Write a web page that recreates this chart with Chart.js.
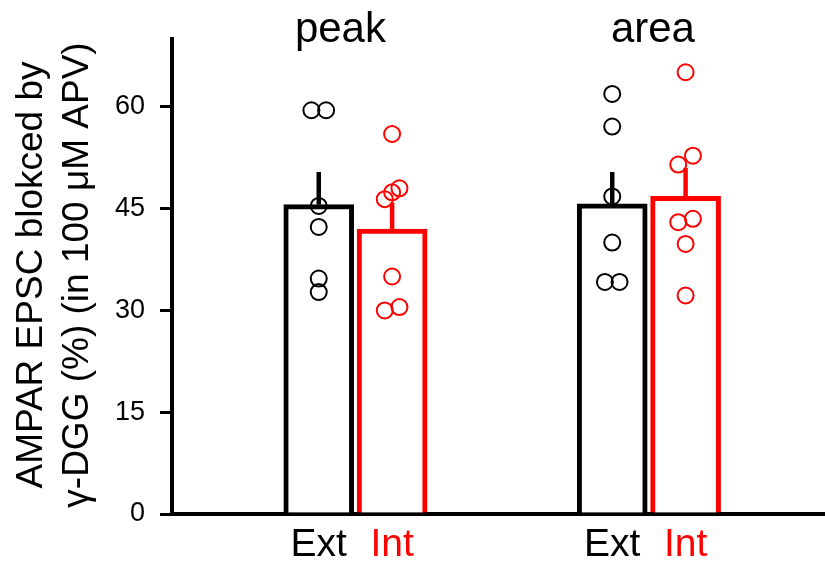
<!DOCTYPE html>
<html>
<head>
<meta charset="utf-8">
<script src="https://cdn.jsdelivr.net/npm/chart.js@4.4.1/dist/chart.umd.min.js"></script>
<style>
  html, body { margin: 0; padding: 0; background: #fff; }
</style>
</head>
<body>
<canvas id="chart" width="825" height="567"></canvas>
<script>
// Data
const groups = ['peak', 'area'];
const tickLabels = ['Ext', 'Int', 'Ext', 'Int'];
const yTicks = [0, 15, 30, 45, 60];
const yTitle = ['AMPAR EPSC blokced by', 'γ-DGG (%) (in 100 μM APV)'];

const extMean = [45.6, 45.7];
const extSem = [4.8, 4.7];
const intMean = [42.0, 46.8];
const intSem = [3.9, 4.2];

const extPeak = [59.5, 59.5, 45.4, 42.3, 34.7, 32.7];
const extArea = [61.9, 57.1, 46.8, 40.0, 34.2, 34.2];
const intPeak = [56.0, 46.4, 47.4, 48.0, 35.0, 30.0, 30.5];
const intArea = [65.1, 51.5, 52.8, 43.0, 43.5, 39.8, 32.2];

// Layout: bar positions on a hidden linear x axis, and the dot jitter
const extPos = [2, 6];
const intPos = [3, 7];
const extJitter = [[-0.1, 0.1, 0, 0, 0, 0], [0, 0, 0, 0, -0.1, 0.1]];
const intJitter = [[0, -0.1, 0, 0.1, 0, -0.1, 0.1], [0, -0.1, 0.1, -0.1, 0.1, 0, 0]];
const titleShift = [-15, 4];

const FONT = '"Liberation Sans", Arial, sans-serif';
const BLACK = '#000000';
const RED = '#ff0000';
const tickColors = [BLACK, RED, BLACK, RED];

function bars(pos, means) { return means.map((m, i) => ({ x: pos[i], y: m })); }
function dots(pos, sets, jit) {
  const out = [];
  sets.forEach((s, g) => s.forEach((v, k) => out.push({ x: pos[g] + jit[g][k], y: v })));
  return out;
}

// upward-only SEM lines, drawn right after each bar dataset
const errorBars = {
  id: 'errorBars',
  afterDatasetDraw(chart, args) {
    const ds = chart.data.datasets[args.index];
    if (!ds.sem) return;
    const y = chart.scales.y, ctx = chart.ctx;
    ctx.save();
    ctx.strokeStyle = ds.borderColor;
    ctx.lineWidth = 4.5;
    args.meta.data.forEach((bar, i) => {
      ctx.beginPath();
      ctx.moveTo(bar.x, bar.y);
      ctx.lineTo(bar.x, y.getPixelForValue(ds.data[i].y + ds.sem[i]));
      ctx.stroke();
    });
    ctx.restore();
  }
};

// group titles and the two-line rotated y title
const labels = {
  id: 'labels',
  afterDraw(chart) {
    const ctx = chart.ctx, x = chart.scales.x;
    ctx.save();
    ctx.fillStyle = BLACK;
    ctx.textAlign = 'center';
    ctx.textBaseline = 'alphabetic';
    ctx.font = '42px ' + FONT;
    groups.forEach((g, i) => {
      const cx = (x.getPixelForValue(extPos[i]) + x.getPixelForValue(intPos[i])) / 2 + titleShift[i];
      ctx.fillText(g, cx, 42);
    });
    ctx.translate(0, 275);
    ctx.rotate(-Math.PI / 2);
    ctx.font = '37px ' + FONT;
    ctx.fillText(yTitle[0], 0, 42);
    ctx.fillText(yTitle[1], 0, 88);
    ctx.restore();
  }
};

new Chart(document.getElementById('chart'), {
  type: 'bar',
  data: {
    datasets: [
      { type: 'bar', label: 'Ext', data: bars(extPos, extMean), sem: extSem, backgroundColor: '#fff',
        borderColor: BLACK, borderWidth: 5, barThickness: 70, grouped: false, order: 2 },
      { type: 'bar', label: 'Int', data: bars(intPos, intMean), sem: intSem, backgroundColor: '#fff',
        borderColor: RED, borderWidth: 5, barThickness: 70, grouped: false, order: 2 },
      { type: 'scatter', data: dots(extPos, [extPeak, extArea], extJitter), pointRadius: 8,
        borderWidth: 2, borderColor: BLACK, backgroundColor: 'transparent', order: 1 },
      { type: 'scatter', data: dots(intPos, [intPeak, intArea], intJitter), pointRadius: 8,
        borderWidth: 2, borderColor: RED, backgroundColor: 'transparent', order: 1 }
    ]
  },
  options: {
    responsive: false,
    animation: false,
    layout: { autoPadding: false, padding: { top: 39, right: 0, bottom: 0, left: 0 } },
    plugins: { legend: { display: false }, tooltip: { enabled: false } },
    scales: {
      x: {
        type: 'linear', min: 0, max: 8.9, offset: false,
        afterBuildTicks: s => { s.ticks = [...extPos, ...intPos].sort((a, b) => a - b).map(v => ({ value: v })); },
        afterFit: s => { s.height = 53; s.paddingLeft = 0; s.paddingRight = 0; },
        border: { display: true, color: BLACK, width: 4 },
        grid: { display: false, drawTicks: false, offset: false },
        ticks: {
          autoSkip: false, maxRotation: 0, padding: 8,
          font: { family: FONT, size: 39 },
          color: c => tickColors[c.index],
          callback: (v, i) => tickLabels[i]
        }
      },
      y: {
        type: 'linear', min: 0, max: 70,
        afterBuildTicks: s => { s.ticks = yTicks.map(v => ({ value: v })); },
        afterFit: s => { s.width = 172; },
        border: { display: true, color: BLACK, width: 4 },
        grid: { display: true, drawOnChartArea: false, drawTicks: true, tickLength: 12, lineWidth: 3, color: BLACK },
        ticks: { color: BLACK, padding: 15, font: { family: FONT, size: 27 } }
      }
    }
  },
  plugins: [errorBars, labels]
});
</script>
</body>
</html>
